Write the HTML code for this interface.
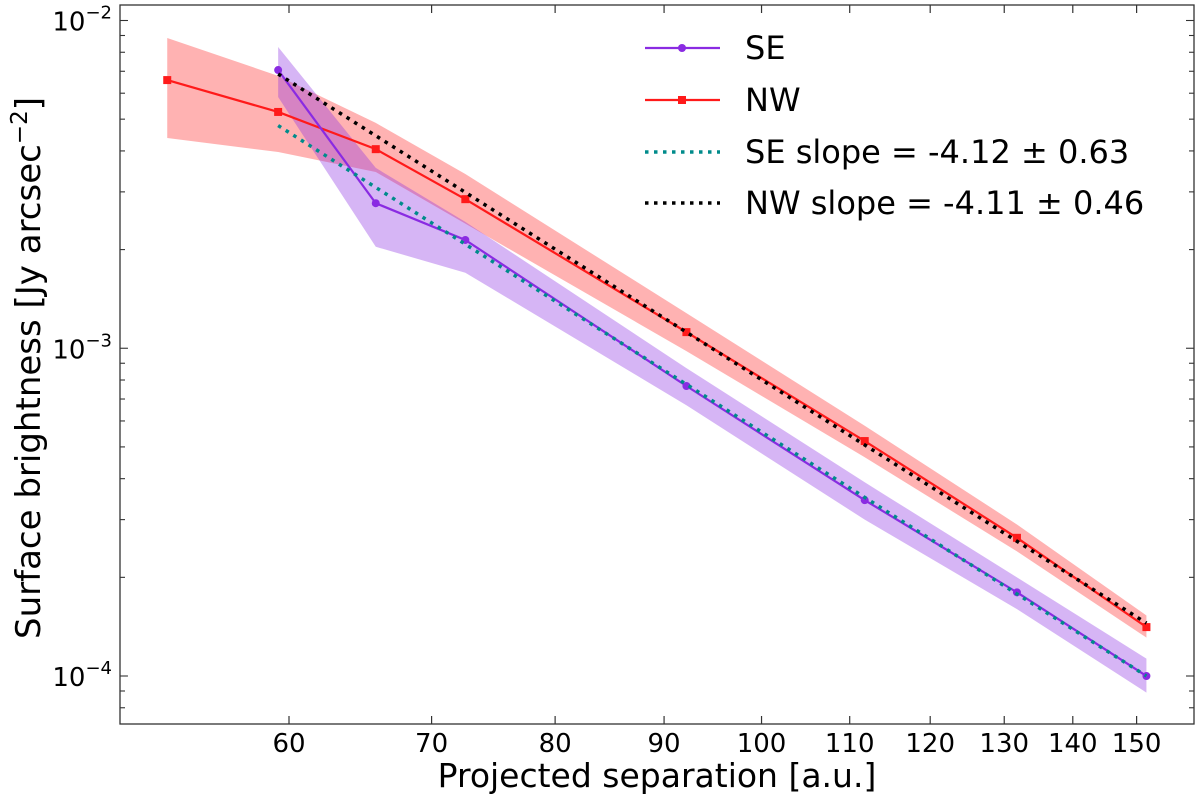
<!DOCTYPE html>
<html><head><meta charset="utf-8"><style>
html,body{margin:0;padding:0;background:#fff;}
svg{display:block;font-family:"DejaVu Sans","Liberation Sans",sans-serif;}
</style></head><body>
<svg id="chart" width="1200" height="800" viewBox="0 0 1200 800" xmlns="http://www.w3.org/2000/svg">
<g id="bands"></g>
<g id="lines"></g>
<g id="axes"></g>
<g id="legend"></g>
</svg>
<script>
const nwX=[52.6,59.3,65.9,72.6,92.2,111.8,131.8,151.6];
const nwY=[6.58e-3,5.26e-3,4.05e-3,2.85e-3,1.12e-3,5.21e-4,2.64e-4,1.41e-4];
const nwHi=[8.84e-3,6.78e-3,4.87e-3,3.4e-3,1.28e-3,5.8e-4,2.9e-4,1.53e-4];
const nwLo=[4.38e-3,3.97e-3,3.45e-3,2.4e-3,0.98e-3,4.65e-4,2.4e-4,1.31e-4];
const seX=[59.3,65.9,72.6,92.2,111.8,131.8,151.6];
const seY=[7.06e-3,2.77e-3,2.14e-3,7.67e-4,3.44e-4,1.80e-4,1.0e-4];
const seHi=[8.3e-3,3.55e-3,2.43e-3,8.7e-4,3.9e-4,2.0e-4,1.13e-4];
const seLo=[5.84e-3,2.04e-3,1.70e-3,6.7e-4,3.0e-4,1.6e-4,8.9e-5];
const seSlope=-4.12, seErr=0.63, nwSlope=-4.11, nwErr=0.46;
const seFitRef=[151.6,1.0e-4], nwFitRef=[151.6,1.45e-4];
const xTicks=[60,70,80,90,100,110,120,130,140,150];
const yDecades=[-4,-3,-2];

const L=120,R=1194,T=5,B=724;
const x0=60,px0=289,dx=2130;
const y0=-2,py0=20.5,dy=327.75;
function X(v){return px0+Math.log10(v/x0)*dx;}
function Y(v){return py0-(Math.log10(v)-y0)*dy;}
const NS="http://www.w3.org/2000/svg";
function mk(tag,attrs,parent){const e=document.createElementNS(NS,tag);for(const k in attrs)e.setAttribute(k,attrs[k]);parent.appendChild(e);return e;}
const bands=document.getElementById('bands'),lines=document.getElementById('lines'),axes=document.getElementById('axes'),legend=document.getElementById('legend');

function band(xs,hi,lo,color,op,name){
  let d='M'+xs.map((x,i)=>X(x)+','+Y(hi[i])).join('L');
  for(let i=xs.length-1;i>=0;i--)d+='L'+X(xs[i])+','+Y(lo[i]);
  const p=mk('path',{d:d+'Z',fill:color,'fill-opacity':op,stroke:'none'},bands);
  
  
}
band(nwX,nwHi,nwLo,'#ff0000',0.3,'nw-error-band');
band(seX,seHi,seLo,'#8a2be2',0.35,'se-error-band');

function series(xs,ys,color,marker,name){
  const pl=mk('polyline',{points:xs.map((x,i)=>X(x)+','+Y(ys[i])).join(' '),fill:'none',stroke:color,'stroke-width':2.2},lines);
  
  
  xs.forEach((x,i)=>{
    let m;
    if(marker==='circle')m=mk('circle',{cx:X(x),cy:Y(ys[i]),r:4,fill:color},lines);
    else m=mk('rect',{x:X(x)-4,y:Y(ys[i])-4,width:8,height:8,fill:color},lines);
    
    
  });
}
function fit(ref,slope,color,xa,xb,name){
  const f=v=>ref[1]*Math.pow(v/ref[0],slope);
  const pts=[];for(let i=0;i<=40;i++){const v=xa*Math.pow(xb/xa,i/40);pts.push(X(v)+','+Y(f(v)));}
  const pl=mk('polyline',{points:pts.join(' '),fill:'none',stroke:color,'stroke-width':3.5,'stroke-dasharray':'3.5 5.5'},lines);
  
  
}
series(nwX,nwY,'#ff1a1a','square','nw');
series(seX,seY,'#8a2be2','circle','se');
fit(seFitRef,seSlope,'#008b8b',seX[0],seX[seX.length-1],'se-fit-line');
fit(nwFitRef,nwSlope,'#000000',seX[0],seX[seX.length-1],'nw-fit-line');

const fr=mk('rect',{x:L,y:T,width:R-L,height:B-T,fill:'none',stroke:'#333','stroke-width':1.3},axes);


xTicks.forEach(v=>{
  const px=X(v);
  mk('line',{x1:px,y1:B,x2:px,y2:B-8,stroke:'#333','stroke-width':1.2},axes);
  mk('line',{x1:px,y1:T,x2:px,y2:T+8,stroke:'#333','stroke-width':1.2},axes);
  const t=mk('text',{x:px,y:B+28,'font-size':26,'text-anchor':'middle',fill:'#000'},axes);
  t.textContent=v;
  
  
});
for(let d=-5;d<=-2;d++){
  for(let m=1;m<10;m++){
    const v=m*Math.pow(10,d);const py=Y(v);
    if(py<T||py>B)continue;
    const len=m===1?8:5;
    mk('line',{x1:L,y1:py,x2:L+len,y2:py,stroke:'#333','stroke-width':1.1},axes);
    mk('line',{x1:R,y1:py,x2:R-len,y2:py,stroke:'#333','stroke-width':1.1},axes);
  }
}
yDecades.forEach(e=>{
  const py=Y(Math.pow(10,e));
  const t=mk('text',{x:112,y:py+10,'font-size':26,'text-anchor':'end',fill:'#000'},axes);
  t.innerHTML='10<tspan dy="-12" font-size="18">\u2212'+(-e)+'</tspan>';
  
  
});
const xt=mk('text',{x:657,y:787,'font-size':33,'text-anchor':'middle',fill:'#000'},axes);
xt.textContent='Projected separation [a.u.]';


const yt=mk('text',{x:0,y:0,'font-size':34,'text-anchor':'middle',fill:'#000',transform:'translate(40,368) rotate(-90)'},axes);
yt.innerHTML='Surface brightness [Jy arcsec<tspan dy="-13" font-size="23">\u22122</tspan><tspan dy="13">]</tspan>';



const entries=[
 {label:'SE',color:'#8a2be2',type:'circle',y:48},
 {label:'NW',color:'#ff1a1a',type:'square',y:100},
 {label:'SE slope = '+seSlope.toFixed(2)+' \u00b1 '+seErr.toFixed(2),color:'#008b8b',type:'dot',y:152},
 {label:'NW slope = '+nwSlope.toFixed(2)+' \u00b1 '+nwErr.toFixed(2),color:'#000',type:'dot',y:203}
];
entries.forEach(en=>{
  const g=mk('g',{},legend);
  
  
  if(en.type==='dot'){
    mk('line',{x1:645,y1:en.y,x2:720,y2:en.y,stroke:en.color,'stroke-width':3.5,'stroke-dasharray':'3.5 5.5'},g);
  }else{
    mk('line',{x1:645,y1:en.y,x2:720,y2:en.y,stroke:en.color,'stroke-width':2.2},g);
    if(en.type==='circle')mk('circle',{cx:682,cy:en.y,r:4,fill:en.color},g);
    else mk('rect',{x:678,y:en.y-4,width:8,height:8,fill:en.color},g);
  }
  const t=mk('text',{x:745,y:en.y+11,'font-size':32,fill:'#000'},g);
  t.textContent=en.label;
});
</script>
</body></html>
